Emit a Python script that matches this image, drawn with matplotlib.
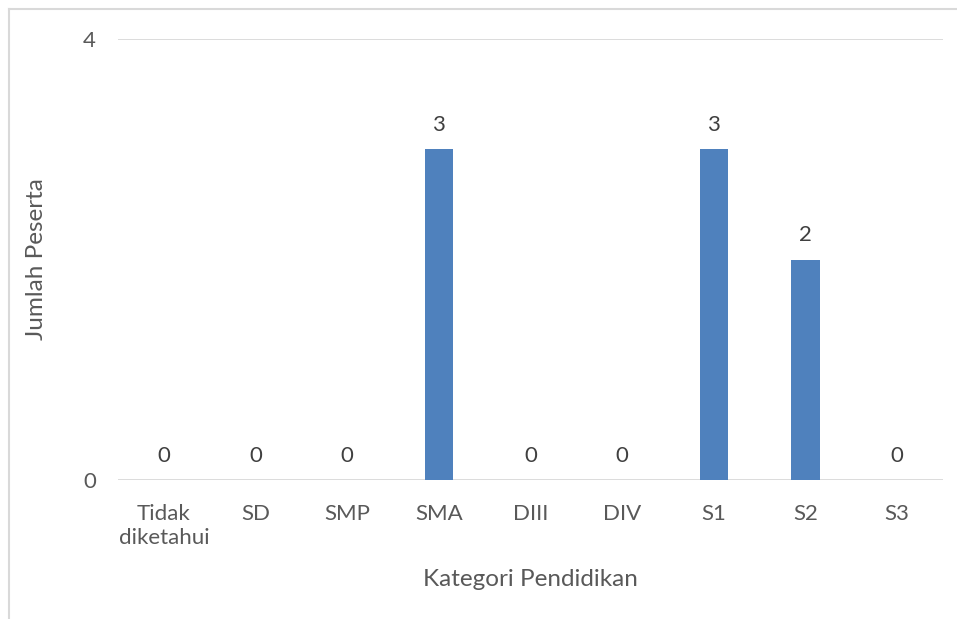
import matplotlib.pyplot as plt
from matplotlib.lines import Line2D

categories = ['Tidak\ndiketahui', 'SD', 'SMP', 'SMA', 'DIII', 'DIV', 'S1', 'S2', 'S3']
values = [0, 0, 0, 3, 0, 0, 3, 2, 0]

plt.rcParams['font.family'] = ['Lato', 'DejaVu Sans']
text_color = '#595959'
grid_color = '#D9D9D9'

W, H = 957, 619
fig = plt.figure(figsize=(W / 100, H / 100), dpi=100)
ax = fig.add_axes([118 / W, 1 - 480 / H, (943 - 118) / W, (480 - 39) / H])

x = range(len(categories))
bars = ax.bar(x, values, width=0.31, color='#4F81BD', zorder=3)

for xi, v in zip(x, values):
    ax.text(xi, v + 0.13, str(v), ha='center', va='bottom', fontsize=16, color='#404040')

ax.set_xlim(-0.5, len(categories) - 0.5)
ax.set_ylim(0, 4)
ax.set_yticks([0, 4])
ax.set_xticks(list(x))
ax.set_xticklabels(categories, fontsize=16, color=text_color, linespacing=1.3)
ax.tick_params(axis='y', labelsize=16, labelcolor=text_color, length=0, pad=16)
ax.tick_params(axis='x', length=0, pad=17)
ax.grid(axis='y', color=grid_color, linewidth=1.3, zorder=0)
for s in ax.spines.values():
    s.set_visible(False)

ax.set_xlabel('Kategori Pendidikan', fontsize=17.5, color=text_color, labelpad=15)
ax.set_ylabel('Jumlah Peserta', fontsize=17.5, color=text_color, labelpad=26)

# chart area border (cropped on right and bottom)
fig.add_artist(Line2D([9 / W, 9 / W], [0, 1 - 9 / H], color=grid_color, linewidth=1.5))
fig.add_artist(Line2D([9 / W, 1], [1 - 9 / H, 1 - 9 / H], color=grid_color, linewidth=1.5))

fig.savefig('out.png', dpi=100)
